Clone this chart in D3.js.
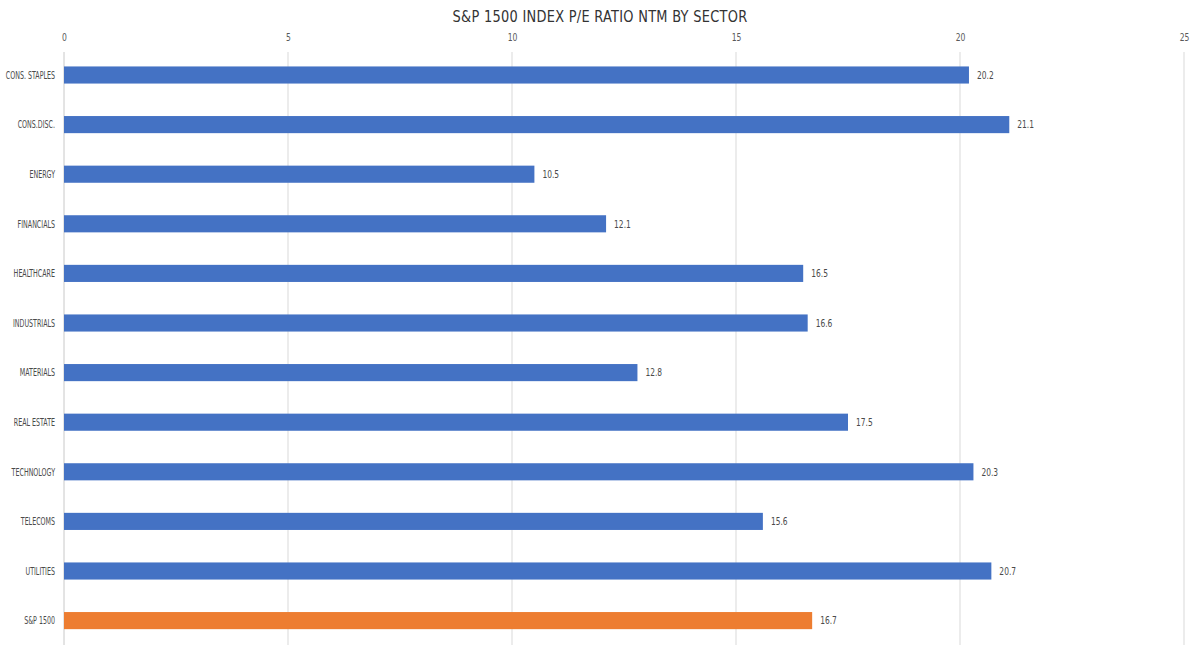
<!DOCTYPE html>
<html><head><meta charset="utf-8">
<script src="https://cdn.jsdelivr.net/npm/d3@7"></script>
<style>body{margin:0;background:#fff}svg{display:block}</style>
</head><body>
<script>
const categories = ["CONS. STAPLES","CONS.DISC.","ENERGY","FINANCIALS","HEALTHCARE","INDUSTRIALS","MATERIALS","REAL ESTATE","TECHNOLOGY","TELECOMS","UTILITIES","S&P 1500"];
const values = [20.2,21.1,10.5,12.1,16.5,16.6,12.8,17.5,20.3,15.6,20.7,16.7];
const tickValues = [0,5,10,15,20,25];
const title = "S&P 1500 INDEX P/E RATIO NTM BY SECTOR";

const W=1200,H=656;
const svg=d3.select("body").append("svg").attr("width",W).attr("height",H);
const x=d3.scaleLinear().domain([0,25]).range([64,1184]);
const y=d3.scaleBand().domain(categories).range([50.2,645.4]).paddingInner(0.655).paddingOuter(0.3275);
const cond="'DejaVu Sans Condensed',sans-serif";

svg.append("text").attr("x",600).attr("y",22).attr("text-anchor","middle")
  .attr("font-family","'DejaVu Sans Condensed',sans-serif").attr("font-size",15).attr("fill","#333")
  .attr("transform","translate(600,0) scale(0.96,1) translate(-600,0)")
  .attr("letter-spacing","0.3").text(title);

const ax=svg.append("g").attr("transform","translate(0,52)")
  .call(d3.axisTop(x).tickValues(tickValues).tickSize(0).tickPadding(11).tickFormat(d3.format("d")));
ax.select(".domain").remove();
ax.selectAll("text").attr("font-family",cond).attr("font-size",10).attr("fill","#595959")
  .attr("transform","scale(0.85,1)");

svg.append("g").selectAll("line").data(tickValues).join("line")
  .attr("x1",d=>x(d)).attr("x2",d=>x(d)).attr("y1",52).attr("y2",645)
  .attr("stroke",d=>d===0?"#c8c8c8":"#d9d9d9").attr("stroke-width",1);

svg.append("g").selectAll("rect").data(categories).join("rect")
  .attr("x",x(0)).attr("y",d=>y(d)).attr("height",y.bandwidth())
  .attr("width",(d,i)=>x(values[i])-x(0))
  .attr("fill",d=>d==="S&P 1500"?"#ED7D31":"#4472C4");

svg.append("g").selectAll("g").data(categories).join("g")
  .attr("transform",d=>`translate(${x(0)-9},${y(d)+y.bandwidth()/2})`)
  .append("text").attr("transform","scale(0.64,1)").attr("dy","0.35em")
  .attr("text-anchor","end").attr("font-family",cond).attr("font-size",11).attr("fill","#4a4a4a").text(d=>d);

svg.append("g").selectAll("g").data(categories).join("g")
  .attr("transform",(d,i)=>`translate(${x(values[i])+8},${y(d)+y.bandwidth()/2})`)
  .append("text").attr("transform","scale(0.76,1)").attr("dy","0.35em")
  .attr("font-family",cond).attr("font-size",11).attr("fill","#4a4a4a").text((d,i)=>d3.format(".1f")(values[i]));
</script>
</body></html>
